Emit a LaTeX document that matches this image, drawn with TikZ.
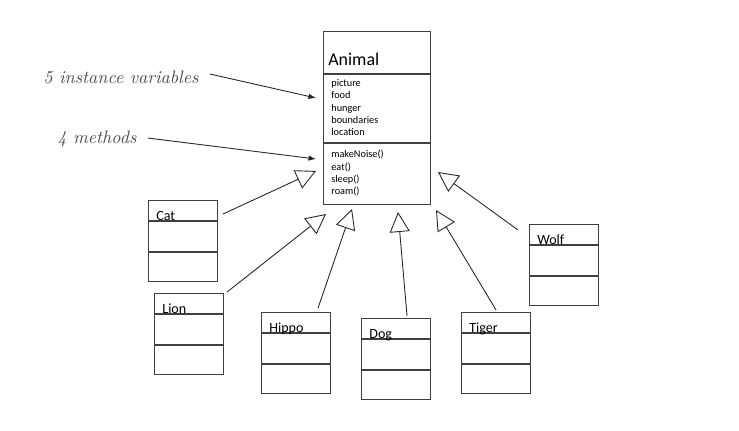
\documentclass[tikz,border=0pt]{standalone}
\usepackage{fontspec}
\newfontfamily\umlfont{Carlito}
\usetikzlibrary{arrows.meta}

\begin{document}
\begin{tikzpicture}[x=0.02cm, y=-0.02cm, >={Latex[length=1.5mm, width=1.1mm]},
	box/.style={draw=black!75, line width=0.6pt, anchor=north west, inner sep=0pt},
	cls/.style={box, minimum width=1.38cm, minimum height=1.62cm},
	clsname/.style={anchor=base west, inner sep=0pt, font=\umlfont\fontsize{8}{9}\selectfont},
	members/.style={anchor=north west, inner sep=0pt, align=left, font=\umlfont\fontsize{5.85}{7.03}\selectfont},
	isa/.style={-{Triangle[open, length=4mm, width=4mm]}, black!85, line width=0.5pt},
	note/.style={->, black!85, line width=0.5pt},
	hand/.style={anchor=west, inner sep=0pt, text=black!70, font=\itshape\fontsize{10.3}{12}\selectfont}]
	\useasboundingbox (0,0) rectangle (739,430);
	% superclass
	\node[box, minimum width=2.14cm, minimum height=3.46cm] (animal) at (323,31) {};
	\draw[black!75, line width=0.6pt] ([shift={(0,43)}]animal.north west) -- ([shift={(0,43)}]animal.north east)
		([shift={(0,112)}]animal.north west) -- ([shift={(0,112)}]animal.north east);
	\node[anchor=base west, inner sep=0pt, font=\umlfont\fontsize{10.2}{12}\selectfont] (animalname) at (328,65) {Animal};
	\node[members] (fields) at (331,79) {picture\\food\\hunger\\boundaries\\location};
	\node[members] (methods) at (331,150) {makeNoise()\\eat()\\sleep()\\roam()};
	% subclasses
	\foreach \n/\x/\y/\t in {cat/148/200/Cat, lion/154/293/Lion, hippo/261/312/Hippo, dog/361/318/Dog, tiger/461/312/Tiger, wolf/529/224/Wolf} {
		\node[cls] (\n) at (\x,\y) {};
		\draw[black!75, line width=0.6pt] ([shift={(0,21)}]\n.north west) -- ([shift={(0,21)}]\n.north east)
			([shift={(0,52)}]\n.north west) -- ([shift={(0,52)}]\n.north east);
		\node[clsname] (\n-name) at ([shift={(8,20)}]\n.north west) {\t};
	}
	% inheritance
	\coordinate (cattip) at (316,171);
	\coordinate (liontip) at (326,214);
	\coordinate (hippotip) at (352,209);
	\coordinate (dogtip) at (398,212);
	\coordinate (tigertip) at (436,210);
	\coordinate (wolftip) at (438,172);
	\draw[isa] ([shift={(5,14)}]cat.north east) -- (cattip);
	\draw[isa] ([shift={(3,-1)}]lion.north east) -- (liontip);
	\draw[isa] ([shift={(-13,-4)}]hippo.north east) -- (hippotip);
	\draw[isa] ([shift={(-24,-2)}]dog.north east) -- (dogtip);
	\draw[isa] ([shift={(-35,-2)}]tiger.north east) -- (tigertip);
	\draw[isa] ([shift={(-11,6)}]wolf.north west) -- (wolftip);
	% notes
	\node[hand] (fieldsnote) at (43,77) {5 instance variables};
	\node[hand] (methodsnote) at (57,139) {4 methods};
	\coordinate (fieldsend) at (316,98);
	\coordinate (methodsend) at (316,159);
	\draw[note] ([shift={(11,-3)}]fieldsnote.east) -- (fieldsend);
	\draw[note] ([shift={(11,-1)}]methodsnote.east) -- (methodsend);
\end{tikzpicture}
\end{document}
